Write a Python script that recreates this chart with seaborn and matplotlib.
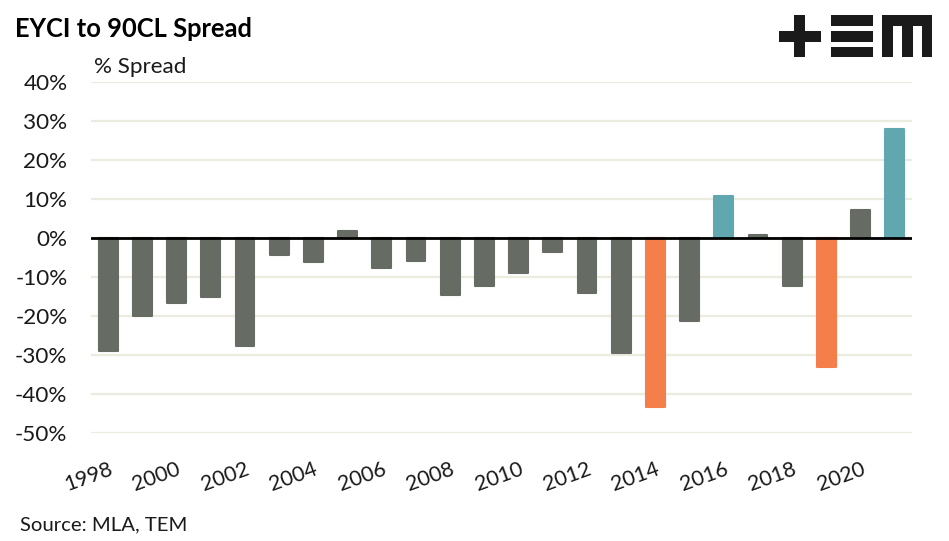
import matplotlib
matplotlib.use("Agg")
import matplotlib.pyplot as plt
import seaborn as sns
import pandas as pd
from matplotlib.patches import Rectangle

# ---- data ----
years = [str(y) for y in range(1998, 2022)]
spread = [-29.0, -20.0, -16.7, -15.1, -27.6, -4.4, -6.2, 1.8, -7.7, -5.9,
          -14.6, -12.3, -9.0, -3.5, -14.1, -29.5, -43.2, -21.3, 10.8, 0.9,
          -12.3, -33.1, 7.1, 27.9]
group = ["base"] * 16 + ["low", "base", "high", "base", "base", "low", "base", "high"]
group_colors = {"base": "#666b63", "low": "#f47f4a", "high": "#61a7b0"}
ytick_values = [40, 30, 20, 10, 0, -10, -20, -30, -40, -50]
xtick_labels = [str(y) for y in range(1998, 2021, 2)]

title = "EYCI to 90CL Spread"
ylabel = "% Spread"
source = "Source: MLA, TEM"

df = pd.DataFrame({"year": years, "spread": spread, "group": group})

sns.set_theme(style="white")
plt.rcParams["font.family"] = ["Lato", "DejaVu Sans"]

W, H = 949, 541
fig = plt.figure(figsize=(W / 100, H / 100), dpi=100)
ax = fig.add_axes([91 / W, 1 - 433.3 / H, (912 - 91) / W, (433.3 - 82) / H])

palette = [group_colors[g] for g in group]
sns.barplot(data=df, x="year", y="spread", hue="year", palette=palette,
            legend=False, width=0.55, ax=ax, saturation=1, zorder=2)
for p, c in zip(ax.patches, palette):
    p.set_edgecolor(c)
    p.set_linewidth(1.5)
    p.set_joinstyle("round")

ax.set_xlim(-0.5, len(years) - 0.5)
ax.set_ylim(-50, 40)
ax.set_yticks(ytick_values)
ax.set_yticklabels([f"{v}%" for v in ytick_values])
ax.set_xticks(range(0, len(years) - 1, 2))
ax.set_xticklabels(xtick_labels, rotation=20, ha="right", rotation_mode="anchor")
ax.tick_params(axis="y", length=0, pad=17, labelsize=16.2, labelcolor="#1a1a1a")
ax.tick_params(axis="x", length=0, pad=18.5, labelsize=15.5, labelcolor="#1a1a1a")
for lbl in ax.get_xticklabels():
    lbl.set_va("top")
ax.set_xlabel("")
ax.set_ylabel("")
for s in ax.spines.values():
    s.set_visible(False)
ax.yaxis.grid(True, color="#ebebe0", linewidth=1.6, zorder=0)
ax.set_axisbelow(True)
ax.axhline(0, color="black", linewidth=2, zorder=3)

fig.text(15 / W, 1 - 36.7 / H, title, fontsize=18.4, fontweight="bold",
         color="black", va="baseline", ha="left")
fig.text(94 / W, 1 - 73.3 / H, ylabel, fontsize=16.2, color="#1a1a1a",
         va="baseline", ha="left")
fig.text(20 / W, 1 - 530 / H, source, fontsize=14.6, color="#1a1a1a",
         va="baseline", ha="left")

# logo (+ E m) drawn as blocks in figure pixels
logo_color = "#1a1a1a"
blocks = [
    (779, 31, 820.7, 41.7), (794.3, 15, 805, 57.3),
    (831, 15, 872.7, 25.7), (831, 31, 872.7, 41.7), (831, 46.7, 872.7, 57.3),
    (882.3, 15, 932.3, 25.7), (882.3, 15, 893.3, 57.3),
    (901.7, 15, 912.7, 57.3), (921.7, 15, 932.3, 57.3),
]
for x0, y0, x1, y1 in blocks:
    fig.add_artist(Rectangle((x0 / W, 1 - y1 / H), (x1 - x0) / W, (y1 - y0) / H,
                             transform=fig.transFigure, color=logo_color, lw=0))

fig.savefig("out.png", dpi=100)
